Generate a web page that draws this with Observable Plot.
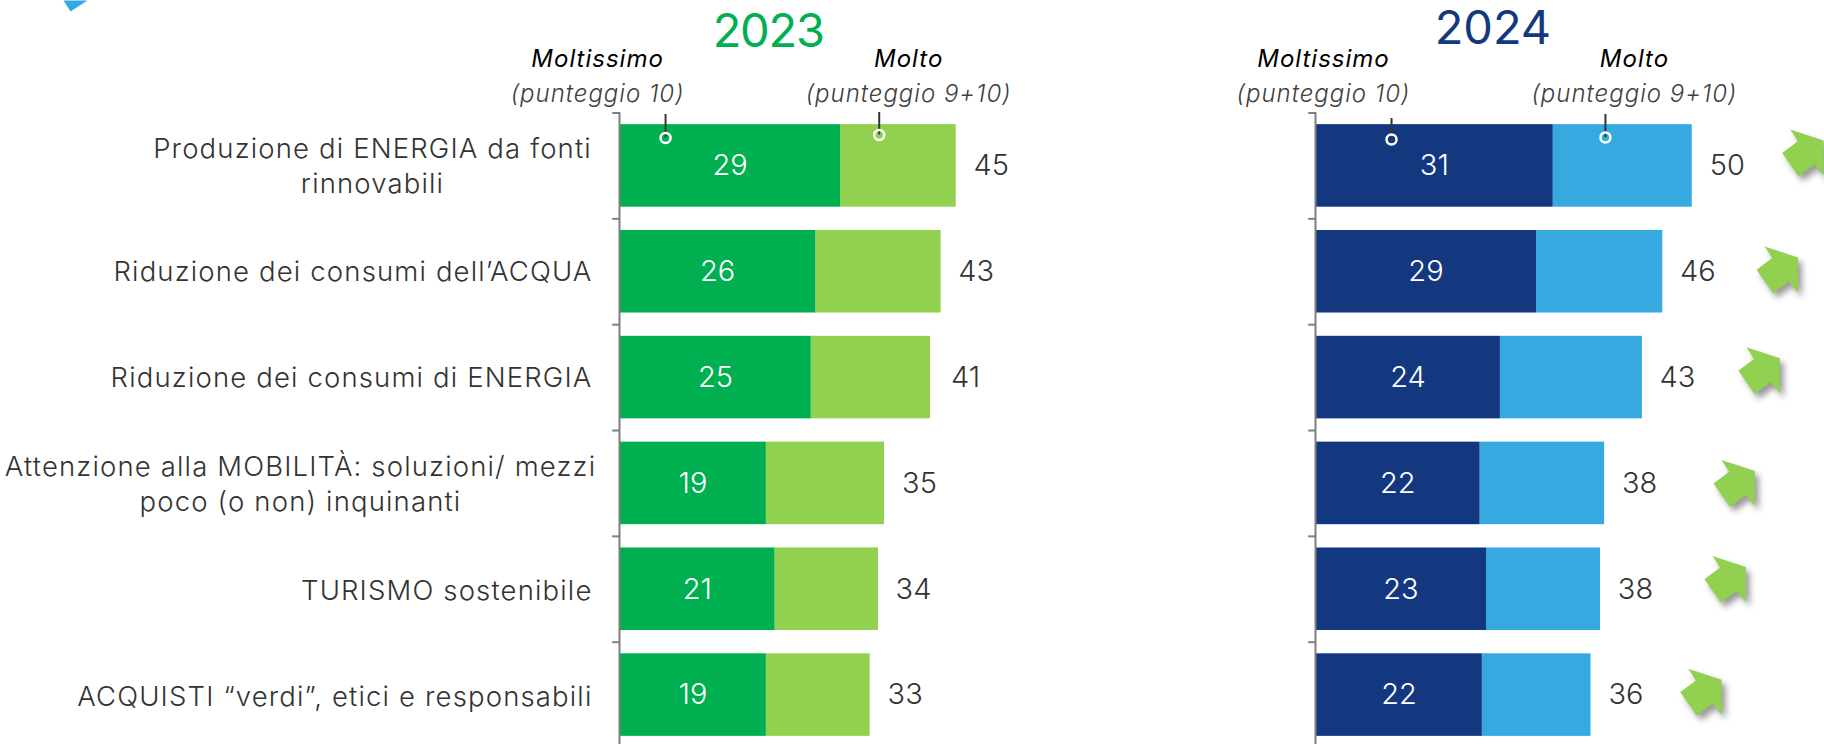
<!DOCTYPE html>
<html><head><meta charset="utf-8">
<style>html,body{margin:0;background:#fff;overflow:hidden}#c{position:relative;width:1824px;height:744px}#c svg{position:absolute;top:0;overflow:visible}
.lbl text{letter-spacing:1.15px}.hdr text{letter-spacing:1px}.ttl2023 text{letter-spacing:-1.2px}</style>
<script src="https://cdn.jsdelivr.net/npm/d3@7"></script>
<script src="https://cdn.jsdelivr.net/npm/@observablehq/plot@0.6"></script>
</head><body><div id="c"></div>
<script>
const categories = [
  "Produzione di ENERGIA da fonti\nrinnovabili",
  "Riduzione dei consumi dell’ACQUA",
  "Riduzione dei consumi di ENERGIA",
  "Attenzione alla MOBILITÀ: soluzioni/ mezzi\npoco (o non) inquinanti",
  "TURISMO sostenibile",
  "ACQUISTI “verdi”, etici e responsabili"
];
const moltissimo2023 = [29.3, 26.0, 25.4, 19.45, 20.6, 19.45];
const molto2023 = [44.6, 42.6, 41.2, 35.1, 34.3, 33.2];
const moltissimo2024 = [31.49, 29.27, 24.49, 21.8, 22.65, 22.1];
const molto2024 = [49.9, 46.0, 43.3, 38.3, 37.75, 36.49];
// arrow centres, in value units, and their lift above the row centre
const arrowValues2024 = [64.55, 61.15, 58.75, 55.45, 54.25, 51.05];
const arrowLift = [13, 2, 7, 0, 10, 3];
const labelLift = [2, 2, 2, 1, 0, 0];
const headers2023 = {title: 19.7, a: -2.9, b: 38.3, leadA: 6.1, leadB: 34.4};
const headers2024 = {title: 23.5, a: 1.06, b: 42.25, leadA: 10.07, leadB: 38.4};

const FONT = "Inter, 'Noto Sans', sans-serif";
const PX_PER_UNIT = 7.55;
const arrowSymbol = {draw(c){
  const p=[[-12.7,-23.3],[20.7,-12.3],[20.7,22.7],[11.7,11.7],[-4.3,23.3],[-20.7,0],[-5,-11.7]];
  c.moveTo(...p[0]); p.slice(1).forEach(q=>c.lineTo(...q)); c.closePath();
}};
const cornerSymbol = {draw(c){ c.moveTo(63,0); c.lineTo(87,0); c.lineTo(70,11); c.closePath(); }};

function panel({left,width,marginLeft,year,mVals,tVals,dark,light,titleColor,h,titleY,leadATop,leadBTop,ringAY,ringBY,extra}){
  const rows = categories.map((cat,i)=>({cat,m:mVals[i],t:tVals[i]}));
  const topText = (x,text,dy,o)=>Plot.text([0],{x:()=>x,frameAnchor:"top",dy,text:()=>text,lineAnchor:"middle",textAnchor:"middle",...o});
  const lead = (x,top,ringY)=>[
    Plot.ruleX([0],{x:()=>x,insetTop:top,insetBottom:744-ringY,stroke:"#333",strokeWidth:2}),
    Plot.dot([0],{x:()=>x,frameAnchor:"top",dy:ringY,r:5,fill:"none",stroke:"#fff",strokeWidth:2.5})
  ];
  const hdr = {className:"hdr",fontSize:24,fontStyle:"italic"};
  const svg = Plot.plot({
    width,height:744,marginLeft,marginRight:0,marginTop:0,marginBottom:0,
    style:{fontFamily:FONT,background:"transparent",overflow:"visible"},
    x:{domain:[0,(width-marginLeft)/PX_PER_UNIT],axis:null},
    y:{domain:categories,range:[112.5,747.5],round:false,paddingInner:0.22,paddingOuter:0.11,axis:null},
    marks:[
      Plot.barX(rows,{x1:"m",x2:"t",y:"cat",fill:light}),
      Plot.barX(rows,{x1:0,x2:"m",y:"cat",fill:dark}),
      Plot.ruleX([0],{insetTop:112,stroke:"#7f7f7f",strokeWidth:2}),
      Plot.ruleY(categories,{y:d=>d,x1:-0.9,x2:0,dy:-52.9,stroke:"#7f7f7f",strokeWidth:2}),
      Plot.text(rows,{x:d=>d.m/2,y:"cat",text:d=>String(Math.round(d.m)),fill:"#fff",fontSize:29,fontWeight:300}),
      Plot.text(rows,{x:"t",y:"cat",text:d=>String(Math.round(d.t)),dx:35,fill:"#333",fontSize:29,fontWeight:300}),
      topText(h.title,String(year),titleY,{className:"ttl"+year,fill:titleColor,fontSize:47,fontWeight:400}),
      topText(h.a,"Moltissimo",59,{...hdr,fill:"#000",fontWeight:400}),
      topText(h.a,"(punteggio 10)",94,{...hdr,fill:"#404040",fontWeight:300}),
      topText(h.b,"Molto",59,{...hdr,fill:"#000",fontWeight:400}),
      topText(h.b,"(punteggio 9+10)",94,{...hdr,fill:"#404040",fontWeight:300}),
      ...lead(h.leadA,leadATop,ringAY),
      ...lead(h.leadB,leadBTop,ringBY),
      ...(extra||[])
    ]
  });
  svg.style.left = left+"px";
  return svg;
}

const labelMarks = [
  ...categories.map((cat,i)=>{
    const two = cat.includes("\n");
    const dx = i===0 ? -247 : i===3 ? -319 : -27;
    return Plot.text([cat],{x:()=>0,y:d=>d,text:d=>d,dx,dy:-labelLift[i],className:"lbl",textAnchor:two?"middle":"end",lineHeight:1.27,fill:"#333",fontSize:27.5,fontWeight:300});
  }),
  Plot.dot([0],{frameAnchor:"top-left",dx:-619,symbol:cornerSymbol,fill:"#36A9E1"})
];
const arrowMarks = categories.map((cat,i)=>
  Plot.dot([cat],{x:()=>arrowValues2024[i],y:d=>d,dy:-arrowLift[i],symbol:arrowSymbol,fill:"#92D050",imageFilter:"drop-shadow(4px 5px 3px rgba(0,0,0,.4))"})
);

const root = document.getElementById("c");
root.append(panel({left:0,width:1100,marginLeft:619,year:2023,mVals:moltissimo2023,tVals:molto2023,dark:"#00B050",light:"#92D050",titleColor:"#00B050",h:headers2023,titleY:31,leadATop:114,leadBTop:112,ringAY:137.5,ringBY:134.5,extra:labelMarks}));
root.append(panel({left:1100,width:724,marginLeft:215,year:2024,mVals:moltissimo2024,tVals:molto2024,dark:"#14387F",light:"#36A9E1",titleColor:"#14387F",h:headers2024,titleY:28.5,leadATop:118,leadBTop:114,ringAY:139,ringBY:137,extra:arrowMarks}));
</script>
</body></html>
